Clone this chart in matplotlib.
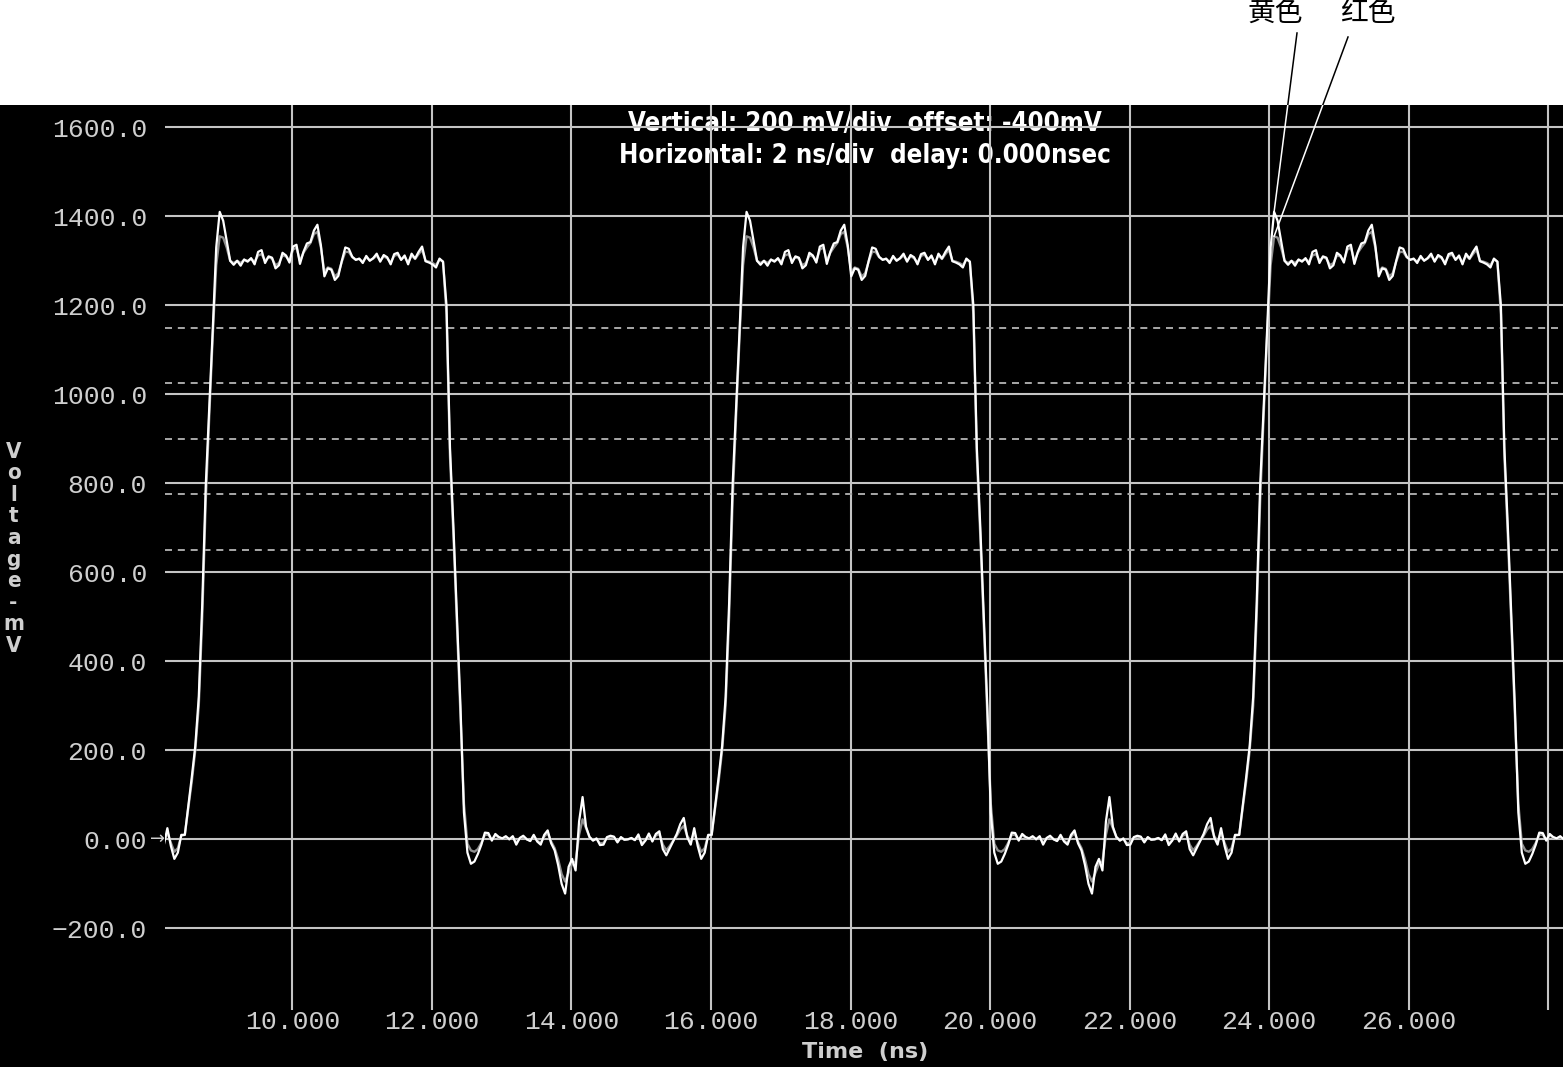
import numpy as np
import matplotlib
matplotlib.use("Agg")
import matplotlib.pyplot as plt
from matplotlib.lines import Line2D
from matplotlib.patches import Rectangle
from matplotlib.transforms import Bbox, TransformedBbox

W, H = 1563, 1067

# one period of each probe trace (mV), sampled every 0.05 ns from the foot of the rising edge
sample_step_ns = 0.05
cycle_starts_ns = [0.91, 8.46, 16.01, 23.57]

white_trace_mv = [
    10, 75, 140, 210, 320, 530, 795, 970, 1145, 1330,
    1410, 1390, 1345, 1300, 1291, 1300, 1289, 1303, 1298, 1306,
    1292, 1320, 1324, 1295, 1310, 1307, 1283, 1290, 1318, 1312,
    1296, 1332, 1336, 1293, 1320, 1339, 1342, 1368, 1381, 1335,
    1265, 1283, 1280, 1257, 1266, 1300, 1330, 1327, 1309, 1302,
    1305, 1295, 1311, 1300, 1306, 1316, 1298, 1313, 1308, 1292,
    1315, 1318, 1302, 1312, 1292, 1316, 1305, 1320, 1332, 1299,
    1296, 1292, 1285, 1305, 1298, 1200, 880, 700, 500, 300,
    60, -30, -55, -50, -33, -12, 15, 14, -3, 12,
    5, 2, 7, 0, 7, -12, 3, 8, 0, -4,
    10, -5, -12, 10, 20, -9, -25, -58, -100, -122,
    -62, -44, -70, 40, 95, 28, 5, -3, 2, -13,
    -12, 5, 8, 6, -7, 5, -1, 0, 3, -2,
    11, -13, -3, 13, -5, 12, 18, -22, -36, -20,
    -4, 12, 34, 48, 5, -12, 25, -15, -44, -30,
    10,
]

gray_trace_mv = [
    10, 70, 130, 200, 300, 500, 760, 950, 1130, 1290,
    1355, 1352, 1330, 1300, 1295, 1300, 1295, 1302, 1300, 1304,
    1298, 1312, 1315, 1300, 1308, 1305, 1290, 1295, 1312, 1310,
    1300, 1325, 1330, 1300, 1318, 1330, 1340, 1360, 1365, 1330,
    1275, 1285, 1282, 1265, 1272, 1298, 1320, 1320, 1308, 1303,
    1304, 1298, 1308, 1301, 1305, 1312, 1300, 1310, 1306, 1296,
    1311, 1314, 1303, 1309, 1296, 1312, 1304, 1315, 1325, 1300,
    1298, 1295, 1290, 1303, 1298, 1180, 860, 680, 480, 280,
    80, -10, -25, -28, -22, -8, 10, 10, -1, 9,
    4, 2, 5, 0, 5, -8, 2, 6, 0, -3,
    7, -3, -8, 6, 14, -5, -20, -45, -78, -95,
    -75, -55, -50, 10, 45, 25, 5, -2, 1, -9,
    -8, 4, 6, 4, -5, 4, -1, 0, 2, -1,
    8, -9, -2, 9, -3, 8, 12, -12, -25, -15,
    -3, 8, 22, 30, 8, -5, 15, -8, -28, -20,
    8,
]

x_ticks = [10, 12, 14, 16, 18, 20, 22, 24, 26, 28]
x_tick_labels = ["10.000", "12.000", "14.000", "16.000", "18.000",
                 "20.000", "22.000", "24.000", "26.000", ""]
y_ticks = [-200, 0, 200, 400, 600, 800, 1000, 1200, 1400, 1600]
y_tick_labels = ["\u2212200.0", "0.00", "200.0", "400.0", "600.0",
                 "800.0", "1000.0", "1200.0", "1400.0", "1600.0"]
threshold_mv = [1150, 1025, 900, 775, 650]
title_lines = ["Vertical: 200 mV/div  offset: -400mV",
               "Horizontal: 2 ns/div  delay: 0.000nsec"]
x_label = "Time  (ns)"
y_label = "Voltage-mV"
trace_names = ["黄色", "红色"]

GRID = "#c4c4c4"
TXT = "#cfcfcf"
CJK = ["Noto Sans CJK SC", "DejaVu Sans"]


def fpx(x, y):
    """pixel position (from top-left) -> figure fraction"""
    return x / W, 1 - y / H


fig = plt.figure(figsize=(W / 100, H / 100), dpi=100, facecolor="white")
black_top = 105
fig.patches.append(Rectangle((0, 0), 1, 1 - black_top / H, transform=fig.transFigure,
                             facecolor="black", edgecolor="none", zorder=-5))

left, right, bottom = 165, 1563, 1010
ax = fig.add_axes([left / W, 1 - bottom / H, (right - left) / W, (bottom - black_top) / H])
ax.set_facecolor("black")
for s in ax.spines.values():
    s.set_visible(False)
ax.set_xlim(8.176, 28.21)
ax.set_ylim(-383.6, 1650.1)

for yv in y_ticks:
    ax.axhline(yv, color=GRID, lw=1.5, zorder=1)
for xv in x_ticks:
    ax.axvline(xv, color=GRID, lw=1.5, zorder=1)
for yv in threshold_mv:
    ax.axhline(yv, color="#a8a8a8", lw=1.4, ls=(0, (3.6, 3.0)), zorder=1)

# traces: every period drawn from the same measured samples
n = len(white_trace_mv)
offsets = np.arange(n) * sample_step_ns
t = np.concatenate([s + offsets for s in cycle_starts_ns])
v_white = np.concatenate([white_trace_mv for _ in cycle_starts_ns])
v_gray = np.concatenate([gray_trace_mv for _ in cycle_starts_ns])
ax.plot(t, v_gray, color="#8e8e8e", lw=1.7, zorder=3)
ax.plot(t, v_white, color="white", lw=1.6, zorder=4)

ax.set_xticks(x_ticks, x_tick_labels)
ax.set_yticks(y_ticks, y_tick_labels)
ax.tick_params(axis="both", length=0, colors=TXT, labelsize=19,
               labelfontfamily="Liberation Mono")
ax.tick_params(axis="y", pad=13)
ax.tick_params(axis="x", pad=0)

# arrow marking the 0 mV reference
ax.annotate("\u2192", xy=(0, 0), xycoords=("axes fraction", "data"),
            xytext=(0, 0), textcoords="offset pixels", ha="right", va="center",
            fontsize=13, color=TXT, annotation_clip=False)

# header text inside the plot, grid lines run over it
for i, line in enumerate(title_lines):
    ax.text(*fpx(865, 124 + 32 * i), line, transform=fig.transFigure, ha="center",
            va="center", color="white", fontsize=18.5, fontweight="bold",
            family="DejaVu Sans", fontstretch="condensed", zorder=0.5)

fig.text(*fpx(865, 1052), x_label, ha="center", va="center", color=TXT,
         fontsize=16, fontweight="bold")
for i, ch in enumerate(y_label):
    fig.text(*fpx(13.5, 452 + 21.5 * i), ch, ha="center", va="center", color=TXT,
             fontsize=16, fontweight="bold", fontstretch="condensed")

# trace name call-outs pointing at the third rising-edge overshoot
fig.canvas.draw()
label_pos = [(1275, 13), (1368, 13)]
line_start = [(1297, 33), (1348, 37)]
peaks = []
for vals in (white_trace_mv, gray_trace_mv):
    k = int(np.argmax(vals[:30]))
    peaks.append((cycle_starts_ns[3] + k * sample_step_ns, vals[k]))

top_clip = TransformedBbox(Bbox([[0, 1 - black_top / H], [1, 1]]), fig.transFigure)
inv = ax.transData.inverted()
for name, (lx, ly), (sx, sy), (pt, pv) in zip(trace_names, label_pos, line_start, peaks):
    fig.text(*fpx(lx, ly), name, ha="center", va="center", color="black",
             fontsize=20, family=CJK)
    st, sv = inv.transform((sx, H - sy))
    ax.plot([st, pt], [sv, pv], color="white", lw=1.1, zorder=5)
    ex, ey = ax.transData.transform((pt, pv))
    seg = Line2D([sx / W, ex / W], [1 - sy / H, ey / H], transform=fig.transFigure,
                 color="black", lw=1.1)
    seg.set_clip_box(top_clip)
    fig.add_artist(seg)

fig.savefig("out.png", dpi=100, facecolor="white")
